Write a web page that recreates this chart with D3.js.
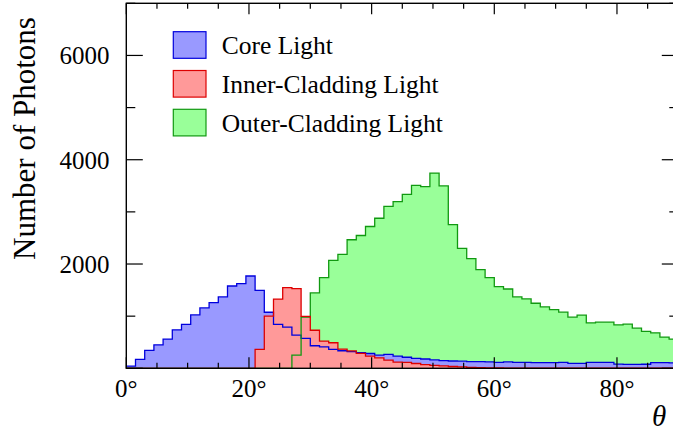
<!DOCTYPE html>
<html>
<head>
<meta charset="utf-8">
<script src="https://cdn.jsdelivr.net/npm/d3@7"></script>
<style>
  html, body { margin: 0; padding: 0; background: #fff; }
  svg { display: block; }
</style>
</head>
<body>
<svg id="chart" width="673" height="434"></svg>
<script>
// Angular distribution of photons, 1.5° bins from 0° to 90°
const binWidth = 1.5;
const thetaRange = [0, 90];

const coreLight = [
  40, 172, 344, 451, 560, 738, 841, 1024, 1158, 1261,
  1368, 1578, 1624, 1770, 1496, 1075, 841, 790, 636, 573,
  432, 410, 363, 337, 318, 300, 284, 254, 268, 235,
  212, 191, 178, 160, 146, 140, 138, 127, 127, 125,
  115, 125, 115, 115, 110, 107, 107, 115, 95, 95,
  115, 113, 115, 80, 76, 76, 78, 107, 107, 105
];

const innerCladdingLight = [
  0, 0, 0, 0, 0, 0, 0, 0, 0, 0,
  0, 0, 0, 0, 363, 1000, 1327, 1548, 1528, 995,
  730, 522, 490, 369, 334, 287, 235, 200, 155, 120,
  112, 92, 72, 58, 46, 35, 28, 17, 12, 8,
  6, 5, 5, 4, 4, 3, 3, 3, 2, 2,
  2, 2, 2, 1, 1, 1, 1, 1, 1, 1
];

const outerCladdingLight = [
  0, 0, 0, 0, 0, 0, 0, 0, 0, 0,
  0, 0, 0, 0, 0, 0, 0, 0, 254, 980,
  1445, 1739, 2070, 2184, 2465, 2547, 2719, 2878, 3107, 3197,
  3337, 3509, 3484, 3745, 3497, 2755, 2299, 2102, 1892, 1739,
  1567, 1521, 1368, 1330, 1248, 1177, 1127, 1076, 980, 1019,
  872, 885, 885, 834, 847, 770, 707, 680, 598, 560
];

const seriesNames = ["Core Light", "Inner-Cladding Light", "Outer-Cladding Light"];
const xTickValues = [0, 20, 40, 60, 80];
const yTickValues = [0, 2000, 4000, 6000];

const serifFont = "'Liberation Serif', 'DejaVu Serif', 'Times New Roman', Times, serif";

const svg = d3.select("#chart")
  .attr("font-family", serifFont);

const x = d3.scaleLinear().domain(thetaRange).range([126.3, 678.3]);
const y = d3.scaleLinear().domain([0, 7000]).range([368.3, 3.3]);

const plotW = x.range()[1] - x.range()[0];
const plotH = y.range()[0] - y.range()[1];

svg.append("defs").append("clipPath").attr("id", "plotClip")
  .append("rect")
  .attr("x", x.range()[0]).attr("y", y.range()[1])
  .attr("width", plotW).attr("height", plotH);

// step outline points for a histogram: baseline -> bins -> baseline
function stepPoints(values) {
  const pts = [[0, 0]];
  values.forEach((v, i) => {
    pts.push([i * binWidth, v]);
    pts.push([(i + 1) * binWidth, v]);
  });
  pts.push([values.length * binWidth, 0]);
  return pts;
}

const area = d3.area()
  .x(d => x(d[0]))
  .y0(y(0))
  .y1(d => y(d[1]));

const line = d3.line()
  .x(d => x(d[0]))
  .y(d => y(d[1]));

const series = [
  { name: seriesNames[0], values: coreLight, fill: "#9999ff", stroke: "#0000dd" },
  { name: seriesNames[1], values: innerCladdingLight, fill: "#ff9999", stroke: "#dd0000" },
  { name: seriesNames[2], values: outerCladdingLight, fill: "#99ff99", stroke: "#119911" }
];

const plot = svg.append("g").attr("clip-path", "url(#plotClip)");

// fills: outer cladding underneath, then core, then inner cladding
const fillOrder = [series[2], series[0], series[1]];
fillOrder.forEach(s => {
  plot.append("path")
    .attr("d", area(stepPoints(s.values)))
    .attr("fill", s.fill)
    .attr("stroke", "none");
});

// outlines drawn over all fills
const lineOrder = [series[0], series[2], series[1]];
lineOrder.forEach(s => {
  plot.append("path")
    .attr("d", line(stepPoints(s.values)))
    .attr("fill", "none")
    .attr("stroke", s.stroke)
    .attr("stroke-width", 1.3)
    .attr("stroke-linejoin", "miter");
});

// frame and ticks
const axes = svg.append("g").attr("stroke", "#000").attr("fill", "none");
const x0 = x.range()[0], x1 = x.range()[1];
const yb = y.range()[0], yt = y.range()[1];

axes.append("rect")
  .attr("x", x0).attr("y", yt)
  .attr("width", plotW).attr("height", plotH)
  .attr("stroke-width", 1.4);

// x ticks (bottom and top): major every 20°, minor every 5°
d3.range(0, 90.01, 5).forEach(t => {
  const major = t % 20 === 0;
  const len = major ? 11 : 5.5;
  const px = x(t);
  axes.append("line").attr("x1", px).attr("x2", px)
    .attr("y1", yb).attr("y2", yb - len).attr("stroke-width", 1.2);
  axes.append("line").attr("x1", px).attr("x2", px)
    .attr("y1", yt).attr("y2", yt + len).attr("stroke-width", 1.2);
});

// y ticks (left and right): major every 2000, minor every 1000
d3.range(0, 7001, 1000).forEach(v => {
  const major = v % 2000 === 0;
  const len = major ? 16.5 : 9;
  const py = y(v);
  axes.append("line").attr("x1", x0).attr("x2", x0 + len)
    .attr("y1", py).attr("y2", py).attr("stroke-width", 1.2);
  axes.append("line").attr("x1", x1).attr("x2", x1 - len)
    .attr("y1", py).attr("y2", py).attr("stroke-width", 1.2);
});

// tick labels
svg.append("g").selectAll("text")
  .data(xTickValues)
  .join("text")
  .attr("x", d => x(d))
  .attr("y", 397)
  .attr("text-anchor", "middle")
  .attr("font-family", serifFont)
  .attr("font-size", 25)
  .text(d => d + "°");

svg.append("g").selectAll("text")
  .data(yTickValues.filter(v => v > 0))
  .join("text")
  .attr("x", 109.5)
  .attr("y", d => y(d) + 9)
  .attr("text-anchor", "end")
  .attr("font-family", serifFont)
  .attr("font-size", 25)
  .text(d => d);

// axis titles
svg.append("text")
  .attr("transform", "translate(35,138.5) rotate(-90)")
  .attr("text-anchor", "middle")
  .attr("font-family", serifFont)
  .attr("font-size", 31)
  .text("Number of Photons");

svg.append("text")
  .attr("x", 659)
  .attr("y", 426)
  .attr("text-anchor", "middle")
  .attr("font-family", serifFont)
  .attr("font-size", 29)
  .attr("font-style", "italic")
  .text("θ");

// legend
const legend = svg.append("g");
series.forEach((s, i) => {
  const top = 31.7 + i * 38.8;
  legend.append("rect")
    .attr("x", 173.3).attr("y", top)
    .attr("width", 32.7).attr("height", 26.6)
    .attr("fill", s.fill)
    .attr("stroke", s.stroke)
    .attr("stroke-width", 1.2);
  legend.append("text")
    .attr("x", 221.7)
    .attr("y", top + 22.3)
    .attr("font-family", serifFont)
    .attr("font-size", 25.5)
    .text(s.name);
});
</script>
</body>
</html>
